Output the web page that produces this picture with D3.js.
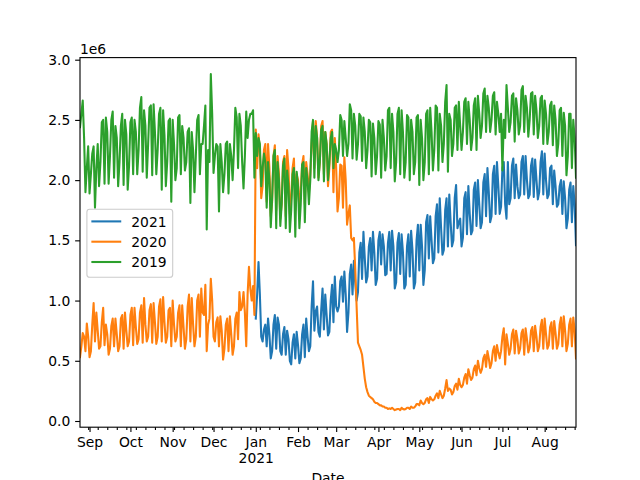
<!DOCTYPE html>
<html><head><meta charset="utf-8">
<script src="https://cdn.jsdelivr.net/npm/d3@7"></script>
<style>body{margin:0;background:#fff}svg{display:block}</style>
</head><body>
<svg id="chart" width="640" height="480"></svg>
<script>
// ---------- data (values in millions of travelers) ----------
const startDate = "2020-08-25";   // first date of the 2020 / 2019 columns
const start2021 = "2021-01-01";   // first date of the 2021 column
const seriesNames = ["2021", "2020", "2019"];
const seriesColors = ["#1f77b4", "#ff7f0e", "#2ca02c"];

const values2021 = [
  0.85,1.05,1.32,1.05,
  0.70,0.66,0.76,0.80,0.62,0.85,0.72,
  0.52,0.58,0.80,0.88,0.60,0.86,0.80,
  0.58,0.55,0.72,0.78,0.55,0.75,0.68,
  0.50,0.47,0.65,0.72,0.52,0.74,0.63,
  0.48,0.52,0.72,0.80,0.53,0.85,0.70,
  0.58,0.62,0.95,1.16,0.75,0.91,0.95,
  0.74,0.70,0.92,1.10,0.76,1.05,0.88,
  0.71,0.74,1.00,1.13,0.82,1.20,0.95,
  0.91,0.95,1.16,1.20,0.99,1.24,1.05,
  0.74,0.90,1.22,1.30,1.05,1.33,1.15,
  1.00,1.07,1.40,1.48,1.18,1.57,1.35,
  1.15,1.20,1.45,1.52,1.25,1.57,1.40,
  1.13,1.18,1.50,1.57,1.30,1.55,1.45,
  1.21,1.22,1.48,1.57,1.25,1.58,1.45,
  1.10,1.15,1.48,1.56,1.22,1.55,1.40,
  1.10,1.13,1.45,1.55,1.20,1.58,1.42,
  1.10,1.15,1.50,1.63,1.25,1.63,1.45,
  1.13,1.25,1.65,1.71,1.35,1.70,1.50,
  1.31,1.35,1.70,1.80,1.40,1.85,1.60,
  1.38,1.42,1.75,1.85,1.45,1.88,1.65,
  1.45,1.50,1.85,1.96,1.60,1.65,1.68,
  1.45,1.52,1.85,1.90,1.55,1.95,1.72,
  1.55,1.58,1.92,1.98,1.62,2.00,1.80,
  1.60,1.65,1.98,2.05,1.70,2.10,1.90,
  1.65,1.70,2.05,2.12,1.72,2.15,1.95,
  1.72,1.78,2.10,2.15,1.80,1.68,2.15,
  1.80,1.85,2.12,2.18,1.85,2.13,1.95,
  1.85,1.88,2.15,2.20,1.88,2.20,2.00,
  1.85,1.88,2.12,2.18,1.86,2.17,2.00,
  1.84,1.90,2.15,2.24,1.88,2.22,2.00,
  1.85,1.88,2.10,2.12,1.80,2.08,1.95,
  1.78,1.80,1.95,2.00,1.72,1.99,1.85,
  1.60,1.68,1.92,1.98,1.65,1.95,1.80,
  1.46
];

const values2020 = [
  0.53,0.62,0.73,0.70,0.58,0.81,0.70,
  0.53,0.58,0.80,0.98,0.66,0.90,0.75,
  0.60,0.62,0.82,0.94,0.63,0.80,0.72,
  0.55,0.60,0.79,0.85,0.62,0.85,0.72,
  0.58,0.62,0.85,0.88,0.60,0.90,0.75,
  0.62,0.66,0.88,0.94,0.63,0.94,0.78,
  0.64,0.68,0.90,0.96,0.65,1.02,0.80,
  0.66,0.70,0.92,0.97,0.65,0.98,0.82,
  0.64,0.70,0.95,1.01,0.66,1.03,0.82,
  0.65,0.70,0.92,0.94,0.62,1.00,0.80,
  0.66,0.70,0.90,0.96,0.62,0.96,0.78,
  0.60,0.68,0.95,1.05,0.66,1.02,0.80,
  0.62,0.70,1.00,1.05,0.70,1.10,0.90,
  0.88,1.13,0.58,0.80,0.85,1.18,1.00,
  0.70,0.66,0.82,0.86,0.62,0.87,0.75,
  0.51,0.60,0.80,0.85,0.58,0.87,0.72,
  0.55,0.62,0.85,0.90,0.68,1.07,0.92,
  0.95,1.07,0.90,0.62,1.05,1.28,1.10,
  1.00,1.12,0.88,2.42,2.10,2.38,2.25,
  1.85,1.95,2.25,2.30,1.82,2.30,2.10,
  1.70,1.82,2.20,2.29,1.75,2.20,2.05,
  1.68,1.80,2.15,2.20,1.70,2.25,2.10,
  1.72,1.85,2.10,2.18,1.75,2.05,2.00,
  1.75,1.90,2.13,2.20,1.80,2.15,2.05,
  1.90,2.05,2.30,2.49,2.10,2.49,2.35,
  2.02,2.15,2.45,2.49,2.05,2.40,2.30,
  1.95,2.10,2.40,2.42,1.90,2.35,2.10,
  1.74,1.85,2.13,2.12,1.77,2.19,2.00,
  1.63,1.72,1.79,1.52,1.50,1.52,1.26,
  0.95,0.65,0.62,0.59,0.55,0.45,0.35,
  0.28,0.24,0.21,0.20,0.19,0.18,0.16,
  0.15,0.15,0.14,0.13,0.13,0.12,0.12,
  0.11,0.11,0.10,0.105,0.10,0.11,0.10,
  0.09,0.095,0.10,0.10,0.09,0.11,0.10,
  0.095,0.10,0.11,0.11,0.10,0.12,0.11,
  0.11,0.12,0.14,0.14,0.13,0.17,0.15,
  0.14,0.15,0.18,0.19,0.15,0.20,0.18,
  0.17,0.18,0.21,0.23,0.19,0.25,0.22,
  0.19,0.21,0.27,0.34,0.25,0.27,0.26,
  0.22,0.24,0.29,0.31,0.26,0.35,0.30,
  0.28,0.30,0.36,0.39,0.31,0.43,0.38,
  0.34,0.36,0.43,0.46,0.38,0.50,0.44,
  0.40,0.43,0.52,0.55,0.45,0.58,0.52,
  0.44,0.48,0.58,0.62,0.50,0.63,0.57,
  0.52,0.58,0.70,0.77,0.47,0.72,0.64,
  0.55,0.60,0.72,0.76,0.56,0.75,0.68,
  0.56,0.60,0.73,0.76,0.55,0.77,0.68,
  0.57,0.61,0.75,0.78,0.58,0.79,0.70,
  0.58,0.62,0.78,0.84,0.60,0.85,0.72,
  0.60,0.63,0.78,0.82,0.60,0.83,0.73,
  0.60,0.64,0.80,0.86,0.62,0.87,0.75,
  0.58,0.64,0.80,0.85,0.62,0.86,0.75,
  0.52
];

const values2019 = [
  2.44,2.55,2.66,2.35,1.90,2.10,2.28,
  1.89,2.05,2.22,2.28,1.77,2.10,2.30,
  1.95,2.15,2.48,2.50,1.97,2.52,2.40,
  1.97,2.20,2.50,2.57,2.02,2.45,2.35,
  1.95,2.15,2.45,2.55,1.96,2.50,2.38,
  1.92,2.12,2.48,2.52,2.05,2.50,2.40,
  2.05,2.25,2.60,2.69,2.07,2.58,2.45,
  2.02,2.30,2.60,2.62,2.04,2.63,2.40,
  2.05,2.25,2.55,2.60,1.92,2.58,2.37,
  1.95,2.15,2.49,2.51,1.82,2.50,2.30,
  2.00,2.10,2.52,2.54,2.05,2.45,2.35,
  2.08,2.15,2.40,2.43,1.81,2.40,2.25,
  1.90,2.20,2.50,2.54,2.05,2.30,2.30,
  2.45,2.62,1.59,2.25,2.15,2.88,2.55,
  2.06,2.20,2.30,2.28,1.74,2.30,2.15,
  1.90,2.05,2.30,2.32,1.89,2.30,2.20,
  2.00,2.25,2.60,2.52,2.10,2.55,2.45,
  2.15,1.93,2.20,2.57,2.35,2.50,2.55,
  2.55,2.58,2.02,2.39,2.20,2.35,2.30,
  1.95,2.10,2.22,2.15,1.77,2.15,2.00,
  1.61,1.85,2.20,2.25,1.60,2.15,2.00,
  1.62,1.80,2.12,2.18,1.60,2.08,1.95,
  1.57,1.75,2.05,2.10,1.53,2.07,1.95,
  1.60,1.80,2.13,2.15,1.65,2.10,2.00,
  1.80,2.00,2.40,2.50,2.02,2.45,2.35,
  2.00,2.15,2.42,2.45,1.99,2.40,2.30,
  2.00,2.15,2.35,2.40,2.10,2.30,2.25,
  2.15,2.25,2.54,2.50,2.20,2.49,2.35,
  2.20,2.30,2.63,2.58,2.18,2.55,2.45,
  2.17,2.30,2.55,2.53,2.16,2.52,2.40,
  2.10,2.25,2.50,2.48,2.03,2.47,2.35,
  2.05,2.20,2.49,2.46,2.02,2.50,2.35,
  2.08,2.20,2.58,2.60,2.10,2.55,2.40,
  1.99,2.15,2.55,2.60,2.05,2.58,2.40,
  2.02,2.15,2.54,2.52,2.00,2.50,2.40,
  2.05,2.15,2.52,2.54,1.96,2.50,2.35,
  2.00,2.15,2.55,2.58,2.05,2.60,2.40,
  2.08,2.25,2.62,2.60,2.08,2.55,2.45,
  2.15,2.30,2.65,2.79,2.07,2.55,2.50,
  2.20,2.30,2.60,2.62,2.25,2.65,2.45,
  2.25,2.40,2.65,2.68,2.30,2.65,2.50,
  2.25,2.35,2.62,2.68,2.25,2.70,2.55,
  2.35,2.45,2.72,2.76,2.40,2.70,2.60,
  2.40,2.50,2.70,2.73,2.38,2.65,2.55,
  2.40,2.55,2.08,2.50,2.35,2.79,2.60,
  2.40,2.48,2.70,2.72,2.32,2.68,2.58,
  2.38,2.45,2.75,2.78,2.40,2.70,2.60,
  2.36,2.50,2.72,2.73,2.38,2.70,2.58,
  2.35,2.45,2.68,2.70,2.30,2.66,2.55,
  2.30,2.40,2.62,2.65,2.29,2.62,2.50,
  2.20,2.30,2.58,2.60,2.20,2.56,2.45,
  2.04,2.20,2.55,2.55,2.10,2.50,2.35,
  2.02
];

const monthTickDates = ["2020-09-01","2020-10-01","2020-11-01","2020-12-01","2021-01-01","2021-02-01",
  "2021-03-01","2021-04-01","2021-05-01","2021-06-01","2021-07-01","2021-08-01"];
const monthTickLabels = ["Sep","Oct","Nov","Dec","Jan\n2021","Feb","Mar","Apr","May","Jun","Jul","Aug"];
const yTickValues = [0, 0.5, 1.0, 1.5, 2.0, 2.5, 3.0];
const yOffsetLabel = "1e6";
const xAxisTitle = "Date";

// ---------- layout ----------
const PT = 100 / 72;
const FONT = "DejaVu Sans, Verdana, sans-serif";
const FS = 10 * PT;
const L = 80, R = 576, T = 57.6, B = 427.2;

const parse = d3.utcParse("%Y-%m-%d");
const t0 = parse(startDate);
const t1 = d3.utcDay.offset(t0, values2020.length - 1);
const t2021 = parse(start2021);

const x = d3.scaleUtc().domain([t0, t1]).range([L, R]);
const y = d3.scaleLinear().domain([-0.0515, 3.0174]).range([B, T]);

const toSeries = (vals, start) => vals.map((v, i) => ({ date: d3.utcDay.offset(start, i), value: v }));
const series = [
  { name: seriesNames[0], color: seriesColors[0], data: toSeries(values2021, t2021) },
  { name: seriesNames[1], color: seriesColors[1], data: toSeries(values2020, t0) },
  { name: seriesNames[2], color: seriesColors[2], data: toSeries(values2019, t0) }
];

const svg = d3.select("#chart");
svg.append("rect").attr("width", 640).attr("height", 480).attr("fill", "#fff");

svg.append("defs").append("clipPath").attr("id", "clip")
  .append("rect").attr("x", L).attr("y", T).attr("width", R - L).attr("height", B - T);

const line = d3.line().defined(d => d.value != null).x(d => x(d.date)).y(d => y(d.value));

const plot = svg.append("g").attr("clip-path", "url(#clip)");
series.forEach(s => {
  plot.append("path").datum(s.data)
    .attr("fill", "none").attr("stroke", s.color)
    .attr("stroke-width", 1.5 * PT)
    .attr("stroke-linejoin", "round").attr("stroke-linecap", "square")
    .attr("d", line);
});

// ---------- axes ----------
const majorDates = monthTickDates.map(parse);
const majorKeys = new Set(majorDates.map(d => +d));
const minorDates = d3.utcMonday.range(t0, d3.utcDay.offset(t1, 1)).filter(d => !majorKeys.has(+d));

const styleAxis = g => {
  g.select(".domain").remove();
  g.selectAll(".tick line").attr("stroke", "#000").attr("stroke-width", 0.8 * PT);
  g.selectAll("text").attr("fill", "#000").style("font-family", FONT).style("font-size", FS + "px");
};

svg.append("g").attr("transform", `translate(0,${B})`)
  .call(d3.axisBottom(x).tickValues(minorDates).tickSize(2 * PT).tickFormat(""))
  .call(styleAxis);

const gx = svg.append("g").attr("transform", `translate(0,${B})`)
  .call(d3.axisBottom(x).tickValues(majorDates).tickSize(3.5 * PT).tickPadding(3.5 * PT)
    .tickFormat((d, i) => monthTickLabels[i].split("\n")[0]))
  .call(styleAxis);
gx.selectAll(".tick text").each(function (d, i) {
  const parts = monthTickLabels[i].split("\n");
  if (parts.length > 1) {
    d3.select(this).append("tspan").attr("x", 0).attr("dy", "1.16em").text(parts[1]);
  }
});

svg.append("g").attr("transform", `translate(${L},0)`)
  .call(d3.axisLeft(y).tickValues(yTickValues).tickSize(3.5 * PT).tickPadding(3.5 * PT)
    .tickFormat(d3.format(".1f")))
  .call(styleAxis);

// spines
svg.append("rect").attr("x", L).attr("y", T).attr("width", R - L).attr("height", B - T)
  .attr("fill", "none").attr("stroke", "#000").attr("stroke-width", 0.8 * PT);

svg.append("text").attr("x", L).attr("y", 53.5).text(yOffsetLabel)
  .style("font-family", FONT).style("font-size", FS + "px");

svg.append("text").attr("x", (L + R) / 2).attr("y", 483).attr("text-anchor", "middle")
  .text(xAxisTitle).style("font-family", FONT).style("font-size", FS + "px");

// ---------- legend ----------
const lg = svg.append("g");
lg.append("rect").attr("x", 86.9).attr("y", 209.3).attr("width", 85.8).attr("height", 68)
  .attr("rx", 2.8).attr("fill", "#fff").attr("fill-opacity", 0.8)
  .attr("stroke", "#cccccc").attr("stroke-width", 0.8 * PT);
series.forEach((s, i) => {
  const cy = 221.4 + i * 20.3;
  lg.append("line").attr("x1", 92.4).attr("x2", 120.2).attr("y1", cy).attr("y2", cy)
    .attr("stroke", s.color).attr("stroke-width", 1.5 * PT).attr("stroke-linecap", "square");
  lg.append("text").attr("x", 131.3).attr("y", cy + 5.1).text(s.name)
    .style("font-family", FONT).style("font-size", FS + "px");
});
</script>
</body></html>
